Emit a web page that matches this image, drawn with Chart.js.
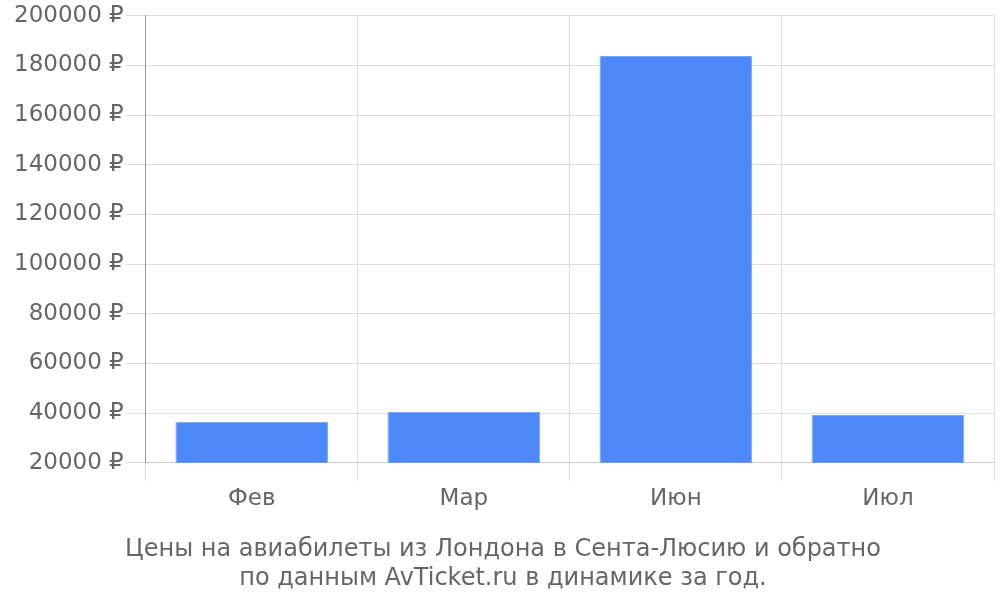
<!DOCTYPE html>
<html>
<head>
<meta charset="utf-8">
<script src="https://cdn.jsdelivr.net/npm/chart.js@4"></script>
<style>
  html, body { margin: 0; padding: 0; background: #fff; }
  #wrap { width: 1000px; height: 600px; }
</style>
</head>
<body>
<div id="wrap"><canvas id="meuGrafico"></canvas></div>
<script>
// Dados do gráfico
var meses = ['Фев', 'Мар', 'Июн', 'Июл'];
var precos = [36500, 40500, 183800, 39200];
var ticksY = [20000, 40000, 60000, 80000, 100000, 120000, 140000, 160000, 180000, 200000];
var titulo = ['Цены на авиабилеты из Лондона в Сента-Люсию и обратно', 'по данным AvTicket.ru в динамике за год.'];

Chart.defaults.font.family = 'DejaVu Sans';
Chart.defaults.color = '#666';

var ctx = document.getElementById('meuGrafico').getContext('2d');
new Chart(ctx, {
    type: 'bar',
    data: {
        labels: meses,
        datasets: [{
            data: precos,
            backgroundColor: '#4d89f9',
            borderColor: '#7aa7fb',
            borderWidth: { top: 1, left: 1, right: 1, bottom: 0 }
        }]
    },
    options: {
        responsive: true,
        maintainAspectRatio: false,
        animation: false,
        layout: { padding: { top: 0, right: 6, left: 12, bottom: 7 } },
        plugins: {
            legend: { display: false },
            tooltip: { enabled: false },
            title: {
                display: true,
                position: 'bottom',
                text: titulo,
                color: '#666',
                font: { size: 24, weight: 'normal', lineHeight: 1.2 },
                padding: { top: 19, bottom: 0 }
            }
        },
        scales: {
            x: {
                grid: { color: '#ddd', tickLength: 18 },
                border: { color: '#ccc' },
                ticks: { font: { size: 23 }, color: '#666', padding: 4 }
            },
            y: {
                min: ticksY[0],
                max: ticksY[ticksY.length - 1],
                afterBuildTicks: function (axis) {
                    axis.ticks = ticksY.map(function (v) { return { value: v }; });
                },
                grid: { color: '#ddd', tickLength: 20 },
                border: { color: '#999' },
                ticks: {
                    font: { size: 23 },
                    color: '#666',
                    padding: 2,
                    callback: function (v) { return v + ' ₽'; }
                }
            }
        }
    }
});
</script>
</body>
</html>
